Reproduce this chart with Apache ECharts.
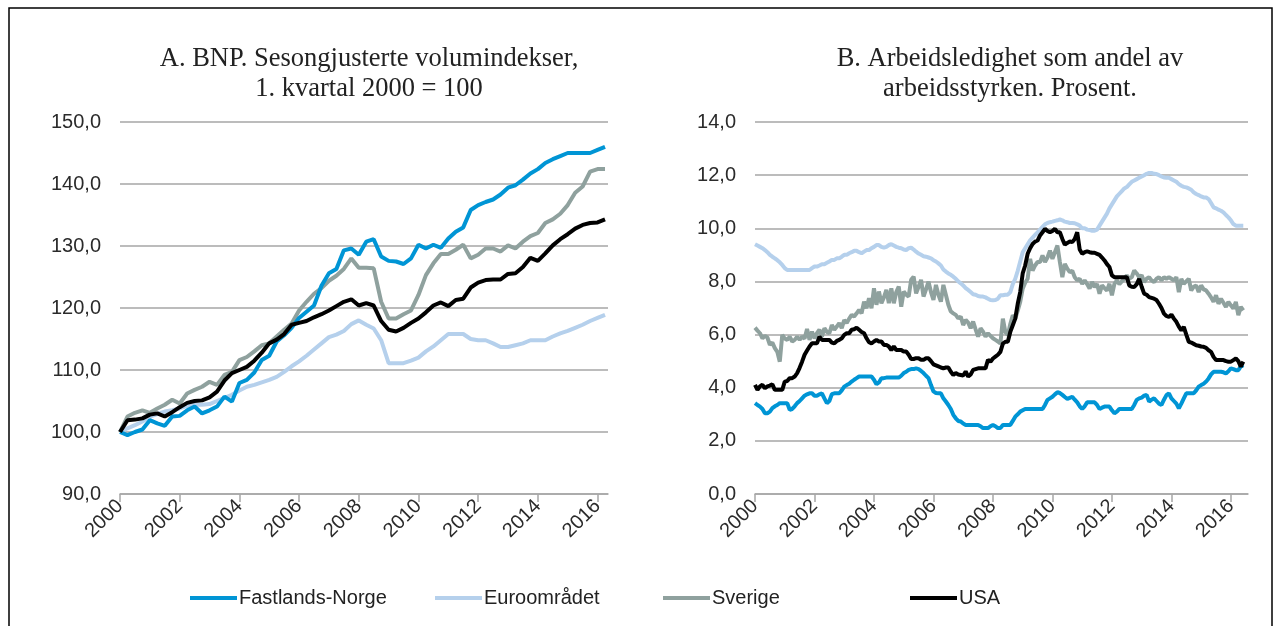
<!DOCTYPE html>
<html>
<head>
<meta charset="utf-8">
<script src="https://cdn.jsdelivr.net/npm/echarts@6/dist/echarts.min.js"></script>
<style>
  html, body { margin: 0; padding: 0; background: #fff; }
  #chart { width: 1283px; height: 626px; }
</style>
</head>
<body>
<div id="chart"></div>
<script>
// tick labels on both x axes (every second year)
const yearLabels = ['2000', '2002', '2004', '2006', '2008', '2010', '2012', '2014', '2016'];

// A. BNP, quarterly 2000K1 - 2016K2, index 2000K1 = 100
const bnpNorge = [100, 99.5, 100.0, 100.4, 101.9, 101.4, 101.0, 102.5, 102.6, 103.5,
  104.1, 103.0, 103.5, 104.1, 105.7, 104.9, 107.9, 108.4, 109.6, 111.6,
  112.3, 114.6, 115.6, 116.8, 118.4, 119.4, 120.4, 123.6, 125.6, 126.3,
  129.3, 129.6, 128.6, 130.7, 131.1, 128.3, 127.6, 127.5, 127.1, 128.0,
  130.2, 129.6, 130.2, 129.7, 131.2, 132.3, 133.0, 135.8, 136.6, 137.1,
  137.5, 138.3, 139.4, 139.8, 140.7, 141.7, 142.4, 143.4, 144.0, 144.5,
  145.0, 145.0, 145.0, 145.0, 145.5, 146.0];
const bnpEuro = [100, 100.6, 101.1, 101.7, 102.5, 102.9, 103.3, 103.5, 103.8, 104.2,
  104.4, 104.4, 104.5, 105.0, 105.5, 106.0, 106.7, 107.3, 107.6, 108.0,
  108.4, 108.9, 109.7, 110.6, 111.4, 112.3, 113.3, 114.3, 115.3, 115.7,
  116.3, 117.4, 118.0, 117.3, 116.7, 114.8, 111.1, 111.1, 111.1, 111.5,
  112.0, 113.0, 113.8, 114.8, 115.8, 115.8, 115.8, 115.0, 114.8, 114.8,
  114.3, 113.7, 113.7, 114.0, 114.3, 114.8, 114.8, 114.8, 115.4, 115.9,
  116.3, 116.8, 117.3, 117.9, 118.4, 118.9];
const bnpSverige = [100, 102.5, 103.1, 103.5, 103.1, 103.8, 104.4, 105.2, 104.6, 106.2,
  106.8, 107.3, 108.1, 107.6, 109.2, 109.7, 111.6, 112.1, 113.0, 114.0,
  114.3, 115.4, 116.5, 117.5, 119.6, 121.0, 122.3, 123.2, 124.4, 125.2,
  126.3, 128.0, 126.5, 126.5, 126.4, 121.0, 118.3, 118.3, 119.0, 119.6,
  122.1, 125.3, 127.2, 128.7, 128.7, 129.4, 130.2, 128.0, 128.6, 129.6,
  129.6, 129.1, 130.1, 129.6, 130.7, 131.6, 132.1, 133.7, 134.3, 135.2,
  136.6, 138.6, 139.6, 142.0, 142.4, 142.4];
const bnpUsa = [100, 101.9, 102.0, 102.2, 102.8, 103.0, 102.5, 103.2, 104.0, 104.7,
  105.0, 105.1, 105.6, 106.5, 108.3, 109.5, 110.0, 110.5, 111.5, 112.8,
  114.3, 114.9, 115.8, 117.3, 117.6, 117.9, 118.5, 119.0, 119.6, 120.3,
  121.0, 121.4, 120.4, 120.8, 120.4, 117.9, 116.5, 116.2, 116.8, 117.6,
  118.3, 119.3, 120.4, 120.9, 120.3, 121.3, 121.5, 123.3, 124.1, 124.5,
  124.6, 124.6, 125.5, 125.6, 126.6, 128.1, 127.6, 128.8, 130.1, 131.1,
  131.9, 132.8, 133.4, 133.7, 133.8, 134.3];

// B. Arbeidsledighet, monthly jan 2000 - jun 2016, prosent
const ledigNorge = [
  3.42, 3.35, 3.29, 3.2, 3.04, 3.04, 3.1, 3.23, 3.3, 3.35, 3.42, 3.42,
  3.42, 3.42, 3.17, 3.2, 3.3, 3.42, 3.5, 3.6, 3.7, 3.75, 3.79, 3.79,
  3.7, 3.7, 3.75, 3.79, 3.6, 3.42, 3.5, 3.76, 3.79, 3.79, 3.79, 3.9,
  4.04, 4.1, 4.15, 4.23, 4.3, 4.36, 4.42, 4.42, 4.42, 4.42, 4.42, 4.42,
  4.3, 4.13, 4.2, 4.36, 4.36, 4.38, 4.38, 4.38, 4.38, 4.38, 4.38, 4.45,
  4.55, 4.6, 4.67, 4.7, 4.7, 4.73, 4.7, 4.63, 4.55, 4.45, 4.36, 4.1,
  3.86, 3.8, 3.79, 3.79, 3.6, 3.48, 3.35, 3.2, 2.98, 2.85, 2.75, 2.73,
  2.65, 2.6, 2.6, 2.6, 2.6, 2.6, 2.6, 2.55, 2.48, 2.48, 2.48, 2.55,
  2.6, 2.55, 2.48, 2.48, 2.6, 2.6, 2.6, 2.6, 2.75, 2.91, 3.0, 3.1,
  3.15, 3.2, 3.2, 3.2, 3.2, 3.2, 3.2, 3.2, 3.2, 3.35, 3.54, 3.6,
  3.66, 3.75, 3.83, 3.8, 3.73, 3.65, 3.58, 3.62, 3.66, 3.55, 3.45, 3.3,
  3.2, 3.3, 3.45, 3.45, 3.45, 3.45, 3.35, 3.2, 3.25, 3.29, 3.29, 3.29,
  3.15, 3.04, 3.1, 3.2, 3.2, 3.2, 3.2, 3.2, 3.2, 3.35, 3.54, 3.6,
  3.63, 3.7, 3.73, 3.48, 3.55, 3.6, 3.5, 3.4, 3.35, 3.55, 3.72, 3.79,
  3.6, 3.5, 3.4, 3.23, 3.4, 3.6, 3.79, 3.79, 3.79, 3.79, 3.9, 4.04,
  4.1, 4.15, 4.23, 4.35, 4.5, 4.6, 4.6, 4.6, 4.6, 4.58, 4.54, 4.62,
  4.73, 4.7, 4.66, 4.66, 4.8, 4.85];
const ledigEuro = [
  9.4, 9.35, 9.3, 9.25, 9.18, 9.1, 9.0, 8.93, 8.87, 8.8, 8.72, 8.62,
  8.5, 8.43, 8.43, 8.43, 8.43, 8.43, 8.43, 8.43, 8.43, 8.43, 8.43, 8.5,
  8.56, 8.56, 8.6, 8.65, 8.65, 8.7, 8.75, 8.81, 8.81, 8.87, 8.87, 8.93,
  9.0, 9.0, 9.06, 9.1, 9.15, 9.15, 9.1, 9.06, 9.12, 9.18, 9.18, 9.25,
  9.3, 9.37, 9.37, 9.3, 9.27, 9.3, 9.37, 9.4, 9.35, 9.3, 9.27, 9.25,
  9.2, 9.18, 9.25, 9.27, 9.2, 9.12, 9.05, 9.0, 8.95, 8.93, 8.9, 8.87,
  8.8, 8.75, 8.68, 8.6, 8.45, 8.37, 8.3, 8.25, 8.18, 8.1, 8.0, 7.93,
  7.85, 7.75, 7.68, 7.6, 7.52, 7.5, 7.45, 7.43, 7.43, 7.4, 7.35, 7.3,
  7.29, 7.3, 7.35, 7.48, 7.48, 7.5, 7.5, 7.6, 7.9, 8.1, 8.4, 8.75,
  9.1, 9.25, 9.4, 9.55, 9.65, 9.75, 9.85, 9.95, 10.05, 10.15, 10.2, 10.23,
  10.25, 10.28, 10.3, 10.33, 10.3, 10.25, 10.23, 10.2, 10.2, 10.19, 10.15, 10.1,
  10.0, 10.0, 9.95, 9.93, 9.91, 9.91, 9.95, 10.1, 10.25, 10.4, 10.55, 10.75,
  10.9, 11.05, 11.2, 11.3, 11.4, 11.5, 11.55, 11.65, 11.75, 11.8, 11.85, 11.9,
  11.95, 12.0, 12.05, 12.08, 12.08, 12.05, 12.04, 12.0, 11.95, 11.91, 11.9, 11.9,
  11.85, 11.8, 11.75, 11.66, 11.6, 11.56, 11.54, 11.5, 11.45, 11.35, 11.29, 11.25,
  11.2, 11.16, 11.16, 11.1, 10.95, 10.79, 10.75, 10.7, 10.66, 10.6, 10.5, 10.41,
  10.3, 10.16, 10.1, 10.1, 10.1, 10.1];
const ledigSverige = [
  6.26, 6.15, 6.05, 5.86, 5.95, 5.89, 5.61, 5.7, 5.49, 5.35, 4.98, 5.99,
  5.85, 5.8, 5.92, 5.74, 5.8, 5.92, 5.8, 5.92, 5.85, 6.21, 5.8, 6.11,
  5.86, 6.05, 6.18, 5.92, 6.24, 6.1, 6.05, 6.36, 6.18, 6.3, 6.43, 6.24,
  6.55, 6.43, 6.6, 6.74, 6.68, 6.8, 6.93, 6.8, 7.24, 6.99, 7.37, 6.99,
  7.74, 7.12, 7.62, 7.18, 7.4, 7.68, 7.18, 7.74, 7.18, 7.6, 7.81, 7.05,
  7.62, 7.5, 7.43, 8.06, 8.18, 7.55, 7.8, 8.06, 7.43, 7.7, 7.99, 7.6,
  7.3, 7.87, 7.5, 7.24, 7.87, 7.5, 7.12, 6.87, 6.8, 6.74, 6.61, 6.68,
  6.36, 6.55, 6.45, 6.24, 6.49, 6.2, 5.92, 6.24, 6.11, 5.92, 6.05, 5.95,
  5.86, 5.8, 5.74, 5.66, 6.6, 6.1, 5.98, 6.4, 6.73, 6.6, 6.9, 7.23,
  7.73, 7.95, 8.1, 8.85, 8.41, 8.6, 8.73, 8.73, 8.98, 8.73, 8.9, 9.16,
  8.85, 9.1, 9.35, 8.73, 8.16, 8.66, 8.48, 8.35, 8.4, 8.16, 8.04, 8.1,
  7.91, 8.04, 7.9, 7.73, 7.98, 7.79, 7.9, 7.54, 7.85, 7.75, 7.66, 7.91,
  7.48, 7.91, 8.04, 7.9, 8.0, 8.1, 8.23, 8.1, 8.16, 8.41, 8.3, 8.16,
  8.23, 7.98, 8.1, 8.16, 8.04, 7.98, 8.1, 8.16, 8.04, 8.16, 8.1, 8.16,
  8.1, 8.04, 8.16, 7.6, 8.1, 7.91, 8.0, 8.1, 7.66, 7.8, 7.85, 7.6,
  7.85, 7.7, 7.66, 7.54, 7.4, 7.23, 7.48, 7.16, 7.35, 7.2, 7.04, 7.23,
  7.1, 6.98, 7.23, 6.73, 7.04, 6.91];
const ledigUsa = [
  4.11, 3.92, 4.05, 4.11, 3.98, 4.05, 4.08, 4.13, 3.92, 3.92, 3.92, 3.92,
  4.23, 4.25, 4.36, 4.36, 4.42, 4.55, 4.75, 4.98, 5.24, 5.4, 5.55, 5.67,
  5.67, 5.67, 5.92, 5.8, 5.8, 5.8, 5.8, 5.7, 5.67, 5.76, 5.8, 5.86,
  5.99, 6.05, 6.05, 6.18, 6.2, 6.26, 6.18, 6.1, 6.05, 5.86, 5.71, 5.67,
  5.74, 5.8, 5.74, 5.74, 5.61, 5.61, 5.55, 5.42, 5.55, 5.42, 5.42, 5.42,
  5.36, 5.36, 5.24, 5.08, 5.08, 5.11, 5.11, 5.05, 5.05, 5.11, 5.11, 5.0,
  4.88, 4.84, 4.8, 4.76, 4.73, 4.76, 4.76, 4.6, 4.48, 4.55, 4.5, 4.48,
  4.46, 4.61, 4.42, 4.5, 4.67, 4.7, 4.73, 4.73, 4.73, 4.73, 5.05, 4.98,
  5.1, 5.17, 5.24, 5.35, 5.66, 5.73, 5.73, 6.1, 6.35, 6.6, 7.16, 7.6,
  8.3, 8.6, 9.04, 9.25, 9.41, 9.5, 9.54, 9.73, 9.85, 9.98, 9.9, 9.85,
  9.9, 9.98, 9.85, 9.85, 9.6, 9.38, 9.45, 9.5, 9.48, 9.6, 9.85, 9.2,
  9.04, 9.1, 9.13, 9.1, 9.08, 9.08, 9.04, 9.0, 8.9, 8.79, 8.65, 8.54,
  8.23, 8.16, 8.16, 8.16, 8.16, 8.16, 8.16, 7.85, 7.8, 7.79, 7.9, 8.1,
  7.8, 7.54, 7.5, 7.41, 7.38, 7.35, 7.3, 7.16, 7.0, 6.79, 6.7, 6.66,
  6.75, 6.6, 6.48, 6.3, 6.16, 6.29, 6.0, 5.73, 5.7, 5.65, 5.6, 5.58,
  5.55, 5.54, 5.5, 5.41, 5.35, 5.16, 5.04, 5.04, 5.04, 5.04, 5.0, 4.98,
  4.98, 5.04, 5.1, 5.0, 4.79, 4.98];

const colors = {
  'Fastlands-Norge': '#0095d5',
  'Euroområdet': '#b5d0ec',
  'Sverige': '#8fa19e',
  'USA': '#000000'
};

const sans = 'Liberation Sans';
const gridColor = '#a6a6a6';

function pairs(arr) {
  return arr.map((v, i) => [i, v]);
}
function comma(v) {
  return v.toFixed(1).replace('.', ',');
}

function xAxisFor(gridIndex, max, step) {
  const ticks = yearLabels.map((y, i) => i * step);
  return {
    type: 'value',
    gridIndex: gridIndex,
    min: 0,
    max: max,
    axisLine: { show: true, lineStyle: { color: gridColor, width: 1.5 } },
    axisTick: { show: true, customValues: ticks, length: 8, lineStyle: { color: gridColor, width: 1.5 } },
    axisLabel: {
      customValues: ticks,
      rotate: 45,
      margin: 9,
      fontFamily: sans,
      fontSize: 20,
      color: '#2b2b2b',
      formatter: v => yearLabels[Math.round(v / step)]
    },
    splitLine: { show: false }
  };
}

function yAxisFor(gridIndex, min, max, interval) {
  return {
    type: 'value',
    gridIndex: gridIndex,
    min: min,
    max: max,
    interval: interval,
    axisLine: { show: false },
    axisTick: { show: false },
    axisLabel: { fontFamily: sans, fontSize: 20, color: '#2b2b2b', margin: 19, formatter: comma },
    splitLine: { lineStyle: { color: gridColor, width: 1.5 } }
  };
}

function line(name, data, idx) {
  return {
    name: name,
    type: 'line',
    xAxisIndex: idx,
    yAxisIndex: idx,
    data: pairs(data),
    showSymbol: false,
    symbol: 'none',
    lineStyle: { color: colors[name], width: 4 },
    itemStyle: { color: colors[name] },
    silent: true
  };
}

function legendAt(name, left) {
  return {
    data: [name],
    left: left,
    top: 583,
    icon: 'rect',
    itemWidth: 47,
    itemHeight: 4,
    textStyle: { fontFamily: sans, fontSize: 20, color: '#222', padding: [0, 0, 0, -3] },
    selectedMode: false
  };
}

function titleText(x, text) {
  return {
    type: 'text',
    x: x,
    y: 44,
    style: {
      text: text,
      textAlign: 'center',
      fontFamily: 'Liberation Serif',
      fontSize: 26.5,
      lineHeight: 30,
      fill: '#222'
    }
  };
}

const chart = echarts.init(document.getElementById('chart'), null, { renderer: 'canvas' });
chart.setOption({
  animation: false,
  backgroundColor: '#fff',
  grid: [
    { left: 120, top: 122, width: 488, height: 372 },
    { left: 755, top: 122, width: 493, height: 372 }
  ],
  xAxis: [xAxisFor(0, 65.4, 8), xAxisFor(1, 198.9, 24)],
  yAxis: [yAxisFor(0, 90, 150, 10), yAxisFor(1, 0, 14, 2)],
  legend: [
    legendAt('Fastlands-Norge', 185),
    legendAt('Euroområdet', 430),
    legendAt('Sverige', 658),
    legendAt('USA', 905)
  ],
  graphic: [
    {
      type: 'rect',
      shape: { x: 9, y: 8, width: 1263, height: 640 },
      style: { fill: 'none', stroke: '#000', lineWidth: 1.5 },
      silent: true
    },
    titleText(369, 'A. BNP. Sesongjusterte volumindekser,\n1. kvartal 2000 = 100'),
    titleText(1010, 'B. Arbeidsledighet som andel av\narbeidsstyrken. Prosent.')
  ],
  series: [
    line('Euroområdet', bnpEuro, 0),
    line('Sverige', bnpSverige, 0),
    line('Fastlands-Norge', bnpNorge, 0),
    line('USA', bnpUsa, 0),
    line('Euroområdet', ledigEuro, 1),
    line('Sverige', ledigSverige, 1),
    line('Fastlands-Norge', ledigNorge, 1),
    line('USA', ledigUsa, 1)
  ]
});
</script>
</body>
</html>
